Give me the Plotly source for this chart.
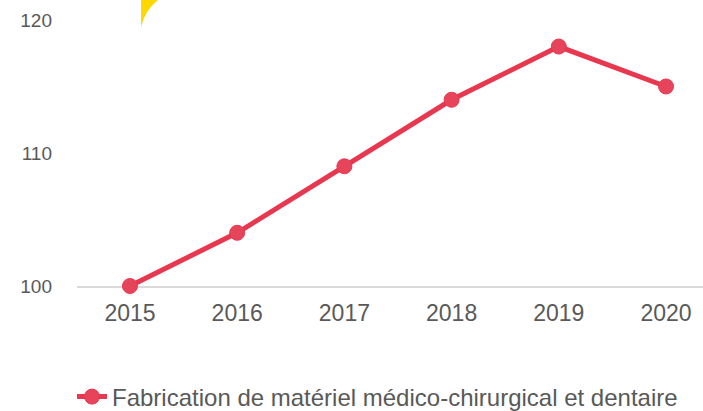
import plotly.graph_objects as go

years = [2015, 2016, 2017, 2018, 2019, 2020]
index_values = [100, 104, 109, 114, 118, 115]
y_ticks = [100, 110, 120]
series_name = "Fabrication de matériel médico-chirurgical et dentaire"

red = "#E8384F"
grey = "#595959"

# plot area in pixels: x 77..703, y 0..286
def px(x):
    return (x - 77) / 626


def py(y):
    return 1 - y / 286


fig = go.Figure()
fig.add_trace(go.Scatter(
    x=years,
    y=index_values,
    name=series_name,
    mode="lines+markers",
    line=dict(color=red, width=5),
    marker=dict(color="#E6445B", size=15, line=dict(color=red, width=1)),
    cliponaxis=False,
))

# yellow decorative corner at the top
fig.add_shape(
    type="path", xref="paper", yref="paper",
    path="M {} {} L {} {} Q {} {} {} {} Z".format(
        px(141), py(0), px(158), py(0), px(145), py(10), px(141), py(27)),
    fillcolor="#FFD700", line=dict(width=0),
)

fig.update_layout(
    width=703,
    height=411,
    margin=dict(l=77, r=0, t=0, b=125, autoexpand=False),
    plot_bgcolor="white",
    paper_bgcolor="white",
    font=dict(family="Liberation Sans, Arial, sans-serif", color=grey),
    showlegend=True,
    legend=dict(
        orientation="h", x=px(72), xanchor="left", y=py(397), yanchor="middle",
        font=dict(size=24, color=grey),
    ),
    xaxis=dict(
        range=[2014.506, 2020.345],
        tickvals=years,
        ticks="outside", ticklen=5, tickcolor="white",
        showgrid=False, zeroline=False, automargin=False,
        showline=True, linecolor="#D9D9D9", linewidth=2,
        layer="below traces",
        tickfont=dict(size=23, color=grey),
    ),
    yaxis=dict(
        range=[100, 121.5],
        tickvals=y_ticks,
        showgrid=False, zeroline=False, showline=False, automargin=False,
        ticklabelstandoff=24,
        tickfont=dict(size=19, color=grey),
    ),
)

# drop the default page margin so the figure sits at the window corner
fig.write_html("out.html", config={"displayModeBar": False},
               post_script="document.body.style.margin='0';")
